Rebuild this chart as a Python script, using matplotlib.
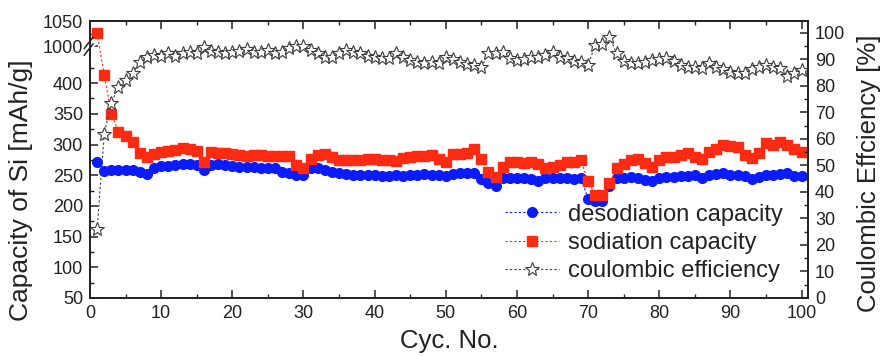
import numpy as np
import matplotlib
matplotlib.use("Agg")
import matplotlib.pyplot as plt
from matplotlib.ticker import FixedLocator, MultipleLocator

plt.rcParams['font.family'] = ['Liberation Sans', 'DejaVu Sans']

# cycle data
cycles = np.arange(1, 101)

desod = [271, 257, 258, 258, 259, 258, 256, 252, 262, 265,
         265, 267, 268, 268, 267, 258, 267, 268, 266, 265,
         264, 263, 264, 262, 262, 261, 255, 253, 251, 250,
         261, 262, 259, 256, 254, 252, 251, 251, 250, 250,
         249, 249, 250, 249, 250, 251, 252, 251, 250, 248,
         252, 253, 253, 254, 244, 237, 232, 245, 245, 245,
         245, 244, 240, 245, 246, 246, 245, 244, 245, 212,
         208, 208, 232, 245, 246, 247, 246, 242, 240, 245,
         247, 247, 249, 248, 250, 246, 250, 252, 253, 251,
         250, 248, 243, 247, 250, 251, 252, 253, 248, 248]

sod = [1026, 413, 350, 321, 314, 304, 286, 279, 285, 288,
       290, 291, 294, 293, 290, 272, 287, 286, 286, 285,
       283, 282, 283, 283, 282, 282, 282, 281, 266, 262,
       276, 283, 284, 280, 275, 274, 275, 275, 276, 276,
       275, 275, 273, 278, 280, 281, 282, 283, 277, 272,
       285, 285, 286, 292, 277, 256, 247, 264, 272, 272,
       270, 271, 268, 262, 263, 266, 272, 271, 274, 240,
       218, 218, 237, 261, 269, 275, 277, 270, 264, 275,
       280, 280, 283, 286, 280, 276, 288, 292, 299, 298,
       296, 283, 278, 286, 302, 300, 304, 300, 292, 287]

ce = [26, 62, 73.7, 79.7, 82.3, 84.8, 89.2, 90.8, 91.7, 91.3,
      92.3, 91.3, 92.3, 92.9, 92.3, 94.8, 93.3, 92.9, 92.5, 92.7,
      93.3, 93.8, 92.9, 92.9, 93.6, 92.3, 92.9, 94.2, 95.1, 95.1,
      93.6, 92.3, 91.1, 90.8, 92.3, 93.6, 92.9, 92.3, 91.3, 90.8,
      90.4, 90.4, 92.3, 91.1, 89.8, 89.2, 88.8, 88.9, 88.8, 90.8,
      90.0, 89.2, 88.3, 87.9, 87.0, 92.3, 92.5, 92.9, 90.4, 89.8,
      90.0, 91.1, 91.1, 91.7, 92.9, 91.1, 90.4, 89.5, 89.2, 87.9,
      95.5, 95.8, 98.4, 92.3, 89.5, 88.8, 88.5, 89.2, 89.8, 90.0,
      90.4, 89.5, 87.9, 87.3, 87.3, 86.7, 88.5, 87.3, 86.3, 85.4,
      85.0, 84.8, 86.3, 87.3, 87.9, 87.3, 86.7, 83.8, 84.8, 86.0]

left_major = [50, 100, 150, 200, 250, 300, 350, 400, 1000, 1050]
left_minor = [75, 125, 175, 225, 275, 325, 375, 425, 1025]

# broken left axis: 50..460 linear, then 1000..1050 compressed
BRK_LO, BRK_HI, K = 460, 1000, 0.824


def fwd(v):
    v = np.asarray(v, dtype=float)
    return np.where(v <= BRK_LO, v,
                    np.where(v >= BRK_HI, BRK_LO + (v - BRK_HI) * K, BRK_LO))


def inv(u):
    u = np.asarray(u, dtype=float)
    return np.where(u <= BRK_LO, u, BRK_HI + (u - BRK_LO) / K)


blue = '#0a1cff'
red = '#ff2a12'
grey = '#3c3c3c'
txt = '#222222'

fig = plt.figure(figsize=(8.85, 3.56), dpi=100)
ax = fig.add_axes([0.1017, 0.163, 0.8113, 0.778])
ax2 = ax.twinx()

ax.plot(cycles, desod, ls=(0, (2, 2)), lw=0.8, color=blue, marker='o', ms=7,
        mec=blue, mfc=blue, label='desodiation capacity', zorder=3)
ax.plot(cycles, sod, ls=(0, (2, 2)), lw=0.8, color=red, marker='s', ms=6.8,
        mec=red, mfc=red, label='sodiation capacity', zorder=4)
ax2.plot(cycles, ce, ls=(0, (2, 2)), lw=0.8, color=grey, marker='*', ms=10,
         mec=grey, mfc='white', mew=0.8, label='coulombic efficiency')

ax.set_yscale('function', functions=(fwd, inv))
ax.set_ylim(50, 1050)
ax.yaxis.set_major_locator(FixedLocator(left_major))
ax.yaxis.set_minor_locator(FixedLocator(left_minor))
ax.set_yticklabels([str(t) for t in left_major])

ax.set_xlim(0, 100.9)
ax.xaxis.set_major_locator(MultipleLocator(10))
ax.xaxis.set_minor_locator(MultipleLocator(5))

ax2.set_ylim(0, 104.5)
ax2.yaxis.set_major_locator(MultipleLocator(10))
ax2.yaxis.set_minor_locator(MultipleLocator(5))

for a in (ax, ax2):
    for s in a.spines.values():
        s.set_linewidth(1.3)
        s.set_color(txt)
    a.tick_params(which='major', direction='in', length=5.5, width=1.1,
                  labelsize=13, colors=txt, pad=5)
    a.tick_params(which='minor', direction='in', length=3, width=1.0, colors=txt)
ax.tick_params(axis='x', which='both', top=True)
ax.tick_params(axis='y', which='both', right=False)

ax.set_xlabel('Cyc. No.', fontsize=18.5, color=txt, labelpad=5)
ax.set_ylabel('Capacity of Si [mAh/g]', fontsize=19, color=txt)
ax.yaxis.set_label_coords(-0.079, 0.39)
ax2.set_ylabel('Coulombic Effciency [%]', fontsize=18.5, color=txt)
ax2.yaxis.set_label_coords(1.068, 0.45)

# axis break mark on left spine
yb = (BRK_LO - 50) / (BRK_LO - 50 + 50 * K)
ax.plot([-0.006, 0.006], [yb - 0.012, yb + 0.012], transform=ax.transAxes,
        color='white', lw=4, clip_on=False, zorder=10)
for dy in (-0.012, 0.012):
    ax.plot([-0.008, 0.004], [yb - 0.02 + dy, yb + 0.02 + dy], transform=ax.transAxes,
            color=txt, lw=1.1, clip_on=False, zorder=11)

h1, l1 = ax.get_legend_handles_labels()
h2, l2 = ax2.get_legend_handles_labels()
ax2.legend(h1 + h2, l1 + l2, loc='lower right', bbox_to_anchor=(0.995, -0.02),
           frameon=False, fontsize=17, handlelength=2.3, handletextpad=0.4,
           labelspacing=0.27, labelcolor=txt)

fig.savefig('out.png', dpi=100)
